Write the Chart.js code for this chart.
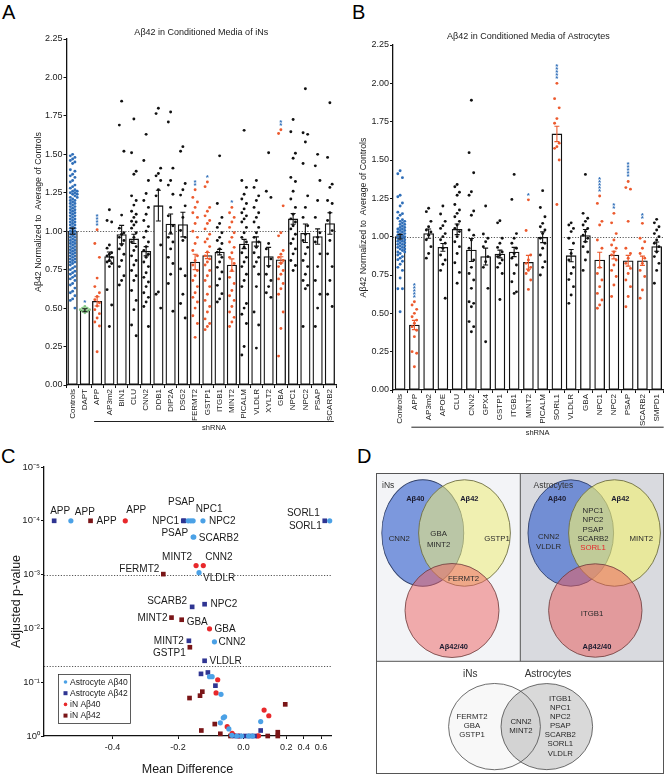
<!DOCTYPE html>
<html><head><meta charset="utf-8">
<script src="https://cdn.jsdelivr.net/npm/chart.js@4.4.1/dist/chart.umd.min.js"></script>
<style>
body{margin:0;background:#fff;width:669px;height:777px;overflow:hidden;position:relative;font-family:'Liberation Sans',Arial,sans-serif}
canvas{position:absolute}
.pl{position:absolute;font-size:20px;line-height:20px;color:#000}
</style></head><body>
<div class="pl" style="left:2px;top:2px">A</div>
<div class="pl" style="left:352px;top:2px">B</div>
<div class="pl" style="left:1px;top:446px">C</div>
<div class="pl" style="left:357px;top:446px">D</div>
<canvas id="cA" width="340" height="440" style="left:0;top:0"></canvas>
<canvas id="cB" width="334" height="440" style="left:335px;top:0"></canvas>
<canvas id="cC" width="335" height="322" style="left:0;top:455px"></canvas>
<canvas id="cD" width="288" height="301" style="left:376px;top:473px"></canvas>
<script>
// ---------------- DATA: panel A ----------------
const catsA = ['Controls','DAPT','APP','AP3m2','BIN1','CLU','CNN2','DDB1','DIP2A','DSG2','FERMT2','GSTP1','ITGB1','MINT2','PICALM','VLDLR','XYLT2','GBA','NPC1','NPC2','PSAP','SCARB2'];
const meanA = [1.00,0.486,0.544,0.835,0.978,0.95,0.87,1.166,1.047,1.043,0.80,0.842,0.864,0.78,0.917,0.933,0.835,0.814,1.08,0.987,0.965,1.05];
const semA  = [0.02,0.01,0.03,0.03,0.06,0.03,0.03,0.10,0.065,0.08,0.05,0.02,0.018,0.04,0.03,0.03,0.06,0.02,0.035,0.06,0.05,0.07];
const starsA = [0,1,4,0,0,0,0,0,0,0,2,1,0,1,0,0,0,2,0,0,0,0];
const hitsA = ['APP','FERMT2','GSTP1','MINT2','GBA'];
const dotsA = [
 [1.50,1.49,1.48,1.47,1.46,1.45,1.44,1.40,1.39,1.37,1.36,1.35,1.33,1.32,1.30,1.29,1.28,1.27,1.26,1.26,1.25,1.25,1.24,1.24,1.23,1.22,1.22,1.21,1.20,1.20,1.19,1.18,1.18,1.17,1.16,1.16,1.15,1.14,1.14,1.13,1.12,1.12,1.11,1.10,1.10,1.09,1.08,1.08,1.07,1.06,1.06,1.05,1.04,1.04,1.03,1.02,1.02,1.01,1.00,1.00,0.99,0.98,0.98,0.97,0.96,0.96,0.95,0.94,0.94,0.93,0.92,0.92,0.91,0.90,0.90,0.89,0.88,0.88,0.87,0.86,0.86,0.85,0.84,0.84,0.83,0.82,0.82,0.81,0.80,0.80,0.79,0.78,0.77,0.76,0.75,0.74,0.73,0.72,0.71,0.70,0.69,0.68,0.66,0.65,0.63,0.61,0.60,0.58,0.56,0.55,0.50],
 [0.51,0.50,0.50,0.49,0.49,0.49,0.48,0.48,0.47],
 [1.01,0.92,0.83,0.695,0.64,0.60,0.576,0.555,0.535,0.514,0.49,0.464,0.436,0.41,0.384,0.216],
 [1.14,1.07,1.06,0.91,0.89,0.86,0.85,0.84,0.83,0.81,0.80,0.79,0.77,0.62,0.52,0.38],
 [1.846,1.69,1.52,1.105,1.02,0.99,0.98,0.96,0.94,0.91,0.885,0.85,0.81,0.77,0.71,0.68,0.65],
 [1.73,1.51,1.39,1.37,1.23,1.20,1.17,1.13,1.11,1.09,1.065,1.06,1.04,1.02,0.99,0.96,0.93,0.90,0.875,0.84,0.81,0.78,0.745,0.71,0.68,0.615,0.55,0.49,0.39,0.32],
 [1.63,1.46,1.33,1.245,1.20,1.155,1.11,1.07,1.03,1.00,0.96,0.93,0.90,0.875,0.85,0.83,0.80,0.77,0.73,0.70,0.67,0.64,0.60,0.57,0.54,0.51,0.38],
 [1.80,1.765,1.41,1.375,1.36,1.33,1.27,1.23,0.91,0.605,0.59,0.50],
 [1.775,1.71,1.41,1.33,1.30,1.24,1.155,1.10,1.035,0.99,0.96,0.93,0.885,0.83,0.79,0.72,0.66,0.48],
 [1.55,1.52,1.31,1.27,1.235,1.165,1.09,1.005,0.96,0.94,0.755,0.71,0.59,0.53,0.436],
 [1.27,1.22,1.19,1.155,1.12,1.09,1.05,1.00,0.96,0.92,0.875,0.84,0.81,0.78,0.745,0.71,0.68,0.64,0.60,0.57,0.54,0.50,0.45,0.40,0.31],
 [1.32,1.29,1.155,1.13,1.10,1.07,1.05,1.015,0.98,0.95,0.93,0.90,0.865,0.84,0.82,0.80,0.78,0.745,0.71,0.68,0.64,0.59,0.55,0.51,0.475,0.43,0.40,0.38,0.36],
 [1.49,1.18,1.09,1.05,1.025,0.99,0.96,0.94,0.92,0.885,0.864,0.83,0.80,0.765,0.735,0.69,0.648,0.594,0.56,0.54],
 [1.155,1.12,1.09,1.06,1.025,0.99,0.96,0.93,0.895,0.86,0.83,0.79,0.745,0.70,0.66,0.615,0.58,0.55,0.51,0.475,0.44,0.41,0.38],
 [1.656,1.33,1.285,1.24,1.21,1.18,1.145,1.12,1.10,1.08,1.06,1.025,0.99,0.96,0.93,0.896,0.86,0.83,0.80,0.77,0.72,0.68,0.64,0.53,0.50,0.46,0.40,0.25,0.195],
 [1.33,1.285,1.23,1.20,1.155,1.12,1.09,1.06,1.025,0.99,0.96,0.93,0.895,0.86,0.83,0.80,0.77,0.72,0.64,0.475,0.39,0.24],
 [1.51,1.26,1.22,0.92,0.885,0.82,0.77,0.72,0.68,0.64,0.60,0.57],
 [1.66,1.635,1.165,0.99,0.97,0.875,0.85,0.83,0.81,0.79,0.77,0.745,0.72,0.69,0.66,0.626,0.59,0.475,0.367,0.188],
 [1.727,1.647,1.507,1.475,1.35,1.323,1.26,1.21,1.155,1.11,1.08,1.06,1.036,1.015,0.98,0.95,0.92,0.885,0.853,0.81,0.777,0.745],
 [1.926,1.64,1.63,1.58,1.44,1.23,1.155,1.09,1.036,0.98,0.94,0.895,0.853,0.81,0.77,0.72,0.68,0.648,0.626,0.38],
 [1.50,1.425,1.33,1.20,1.09,0.99,0.96,0.93,0.853,0.77,0.68,0.59,0.50,0.38],
 [1.835,1.48,1.306,1.285,1.20,1.18,1.12,1.07,1.004,0.94,0.853,0.77,0.68,0.59,0.51]
];
// ---------------- DATA: panel B ----------------
const catsB = ['Controls','APP','AP3m2','APOE','CLU','CNN2','GPX4','GSTP1','ITGB1','MINT2','PICALM','SORL1','VLDLR','GBA','NPC1','NPC2','PSAP','SCARB2','SMPD1'];
const meanB = [1.00,0.424,1.02,0.93,1.048,0.913,0.87,0.887,0.90,0.833,0.996,1.67,0.876,1.007,0.848,0.88,0.843,0.843,0.935];
const semB  = [0.015,0.03,0.03,0.025,0.035,0.075,0.055,0.025,0.03,0.045,0.035,0.05,0.04,0.04,0.05,0.025,0.035,0.03,0.03];
const starsB = [0,5,0,0,0,0,0,0,0,1,0,5,0,0,5,2,5,2,0];
const hitsB = ['APP','MINT2','SORL1','NPC1','NPC2','PSAP','SCARB2'];
const dotsB = [
 [1.43,1.41,1.385,1.27,1.26,1.22,1.20,1.16,1.15,1.14,1.12,1.11,1.10,1.10,1.09,1.08,1.08,1.07,1.06,1.06,1.05,1.05,1.04,1.04,1.03,1.03,1.02,1.02,1.01,1.01,1.00,1.00,0.99,0.99,0.98,0.98,0.97,0.97,0.96,0.96,0.95,0.95,0.94,0.94,0.93,0.93,0.92,0.92,0.91,0.90,0.90,0.89,0.88,0.87,0.86,0.85,0.84,0.82,0.80,0.78,0.73,0.66,0.66,0.51],
 [0.576,0.554,0.526,0.50,0.478,0.456,0.435,0.413,0.39,0.348,0.25,0.24,0.152],
 [1.185,1.163,1.10,1.065,1.043,1.03,1.01,0.98,0.935,0.89,0.86],
 [1.20,1.148,1.10,1.072,1.054,1.02,1.00,0.98,0.957,0.924,0.88,0.848,0.82,0.78,0.598],
 [1.34,1.326,1.29,1.27,1.21,1.174,1.152,1.13,1.10,1.076,1.054,1.033,1.00,0.967,0.935,0.89,0.83,0.767,0.696],
 [1.89,1.548,1.417,1.293,1.27,1.167,1.14,1.043,1.01,0.978,0.924,0.848,0.80,0.76,0.717,0.663,0.576,0.565,0.543,0.446,0.413,0.38],
 [1.20,1.017,0.99,0.967,0.935,0.87,0.837,0.80,0.663,0.315],
 [1.104,1.09,0.99,0.957,0.93,0.90,0.88,0.87,0.848,0.826,0.80,0.76,0.59],
 [1.406,1.243,1.02,0.99,0.957,0.924,0.89,0.86,0.815,0.76,0.706,0.64,0.63],
 [1.24,1.04,0.88,0.848,0.826,0.80,0.78,0.76,0.717,0.656],
 [1.30,1.19,1.13,1.087,1.065,1.043,1.02,0.99,0.957,0.924,0.88,0.837,0.80,0.75],
 [2.00,1.90,1.84,1.77,1.74,1.61,1.587,1.576,1.50,1.21],
 [1.09,1.076,1.054,1.033,0.99,0.957,0.89,0.848,0.80,0.76,0.72,0.674,0.62,0.565],
 [1.406,1.152,1.12,1.10,1.076,1.054,1.033,1.01,0.99,0.967,0.935,0.90,0.848,0.78],
 [1.265,1.217,1.10,1.076,0.978,0.924,0.80,0.76,0.717,0.674,0.63,0.587,0.554,0.533],
 [1.152,1.09,1.02,0.978,0.946,0.924,0.90,0.88,0.848,0.815,0.78,0.74,0.685,0.61],
 [1.36,1.32,1.31,1.10,0.924,0.89,0.86,0.826,0.793,0.76,0.717,0.674,0.61,0.543],
 [1.087,0.99,0.967,0.924,0.89,0.86,0.826,0.78,0.74,0.652,0.598],
 [1.113,1.09,1.065,1.043,1.02,1.00,0.978,0.957,0.935,0.90,0.87,0.826,0.78,0.696]
];
// ---------------- DATA: panel C (mean difference, adjusted p, gene) ----------------
const seriesC = ['Astrocyte Aβ40','Astrocyte Aβ42','iN Aβ40','iN Aβ42'];
const astro40C = [[-0.527,1e-4,'APP'],[-0.169,1e-4,''],[-0.161,1e-4,''],[-0.154,1e-4,'NPC1'],[-0.124,1e-4,'NPC2'],[0.699,1e-4,'SORL1'],[-0.154,2.0e-4,'PSAP'],[-0.152,2.0e-4,'SCARB2'],[-0.136,9.2e-4,'VLDLR'],[-0.089,0.0178,'CNN2'],[-0.104,0.079,''],[-0.096,0.079,''],[-0.069,0.168,''],[-0.058,0.44,''],[-0.062,0.46,''],[-0.071,0.57,''],[-0.045,0.74,''],[0.08,0.54,''],[-0.036,0.97,''],[-0.021,1,''],[-0.006,1,''],[0.023,1,''],[0.042,1,'']];
const astro42C = [[-0.578,1e-4,'APP'],[-0.184,1e-4,'PSAP'],[-0.182,1e-4,'NPC1'],[0.642,1e-4,'SORL1'],[-0.157,3.98e-3,'SCARB2'],[-0.119,3.55e-3,'NPC2'],[-0.167,0.017,'MINT2'],[-0.119,0.040,'VLDLR'],[-0.13,0.070,''],[-0.109,0.066,''],[-0.086,0.116,''],[0.08,0.79,''],[-0.027,1,''],[-0.012,1,''],[0.008,1,''],[0.031,1,''],[0.051,1,'']];
const iN40C = [[-0.361,1e-4,'APP'],[-0.145,6.8e-4,'MINT2'],[-0.123,6.8e-4,'CNN2'],[-0.104,0.0102,'GBA'],[-0.079,0.090,''],[-0.084,0.158,''],[-0.05,0.67,''],[0.096,0.33,''],[0.118,0.42,''],[0.07,0.99,''],[-0.03,0.97,''],[-0.015,1,''],[-0.035,0.89,''],[0.065,1,'']];
const iN42C = [[-0.467,1e-4,'APP'],[-0.245,9.8e-4,'FERMT2'],[-0.22,6.3e-3,'MINT2'],[-0.189,6.9e-3,'GBA'],[-0.164,0.0224,'GSTP1'],[-0.165,0.197,''],[-0.133,0.178,''],[-0.126,0.150,''],[-0.088,0.60,''],[-0.129,0.79,''],[-0.071,0.91,''],[-0.04,1,''],[0.113,1,''],[0.16,0.85,''],[0.16,1,''],[0.195,0.258,'']];
const thresholdsC = [0.001, 0.05];
const xTicksC = [-0.4,-0.2,0,0.2,0.4,0.6];
const yTicksC = [1e-5,1e-4,1e-3,1e-2,1e-1,1];
// ---------------- DATA: panel D (gene sets) ----------------
const iNsAb40Only = ['CNN2'], iNsAb40Ab42 = ['GBA','MINT2'], iNsAb42Only = ['GSTP1'], iNsAb42Ratio = ['FERMT2'];
const astAb40Only = ['CNN2','VLDLR'], astAb40Ab42 = ['NPC1','NPC2','PSAP','SCARB2','SORL1'], astAb42Only = ['MINT2'], astRatioOnly = ['ITGB1'];
const iNsOnly = ['FERMT2','GBA','GSTP1'], sharedHits = ['CNN2','MINT2'], astOnly = ['ITGB1','NPC1','NPC2','PSAP','SCARB2','SORL1','VLDLR'];

// ---------------- setup ----------------
const FONT = "'Liberation Sans', Arial, Helvetica, sans-serif";
Chart.defaults.font.family = FONT;
Chart.defaults.color = '#1a1a1a';
Chart.defaults.animation = false;
Chart.defaults.events = [];
Chart.defaults.plugins.legend.display = false;
Chart.defaults.plugins.tooltip.enabled = false;

function swarm(vals, pxPerVal, d, minDist) {
  const placed = [];
  return vals.map((v, j) => {
    const y = v * pxPerVal;
    const pref = [0, -1, 1][j % 3];
    const cands = [pref, 0, 1, -1, 2, -2, 3, -3, 4, -4, 5, -5, 6, -6];
    for (const c of cands) {
      const x = c * d;
      if (placed.every(p => Math.hypot(p[0] - x, p[1] - y) >= minDist)) { placed.push([x, y]); return x; }
    }
    placed.push([0, y]); return 0;
  });
}

const BLUE = '#2f6eb8', RED = '#ec5a2e', GREEN = '#86c986', BLACK = '#111';

function barPanel(id, o) {
  const n = o.cats.length;
  const unitPx = o.plotW / n;
  const groups = {ctrl: [], dapt: [], hit: [], other: []};
  o.dots.forEach((vals, i) => {
    const name = o.cats[i];
    const kind = i === 0 ? 'ctrl' : name === 'DAPT' ? 'dapt' : o.hits.includes(name) ? 'hit' : 'other';
    const offs = swarm(vals, o.pxPerVal, 2.3, 2.6);
    vals.forEach((v, j) => groups[kind].push({x: i + offs[j] / unitPx, y: v}));
  });
  const colors = {ctrl: BLUE, dapt: GREEN, hit: RED, other: BLACK};
  const datasets = [{type: 'bar', data: o.means.map((m, i) => ({x: i, y: m})), backgroundColor: '#fff', borderColor: BLACK, borderWidth: 1.3, borderSkipped: false, barThickness: o.barPx, order: 2}];
  for (const k of ['ctrl', 'dapt', 'hit', 'other']) {
    datasets.push({type: 'scatter', data: groups[k], pointRadius: 1.45, pointBackgroundColor: colors[k], backgroundColor: colors[k], pointBorderWidth: 0, borderWidth: 0, order: 1, clip: false});
  }
  const extras = {
    id: 'extras' + id,
    beforeDatasetsDraw(c) {
      const {ctx, chartArea: a, scales: {y}} = c;
      const py = Math.round(y.getPixelForValue(1)) + 0.5;
      ctx.save(); ctx.setLineDash([1.2, 1.6]); ctx.strokeStyle = '#444'; ctx.lineWidth = 0.9;
      ctx.beginPath(); ctx.moveTo(a.left, py); ctx.lineTo(a.right, py); ctx.stroke(); ctx.restore();
    },
    afterDatasetsDraw(c) {
      const {ctx, scales: {x, y}} = c;
      ctx.save();
      o.means.forEach((m, i) => {
        const s = o.sems[i];
        const px = x.getPixelForValue(i), t = y.getPixelForValue(m + s), b = y.getPixelForValue(m - s);
        ctx.strokeStyle = o.hits.includes(o.cats[i]) ? RED : BLACK;
        ctx.lineWidth = 1.1;
        ctx.beginPath();
        ctx.moveTo(px, t); ctx.lineTo(px, b);
        ctx.moveTo(px - 2.5, t); ctx.lineTo(px + 2.5, t);
        ctx.moveTo(px - 2.5, b); ctx.lineTo(px + 2.5, b);
        ctx.stroke();
      });
      ctx.fillStyle = BLUE; ctx.font = 'bold 8px ' + FONT; ctx.textAlign = 'center'; ctx.textBaseline = 'alphabetic';
      o.stars.forEach((k, i) => {
        if (!k) return;
        const top = y.getPixelForValue(Math.max(...o.dots[i]));
        for (let j = 0; j < k; j++) ctx.fillText('*', x.getPixelForValue(i), top - 2 - j * 3);
      });
      ctx.restore();
    },
    afterDraw(c) {
      const {ctx, scales: {x}, chartArea: a} = c;
      const x1 = x.getPixelForValue(o.shFrom) - 3, x2 = x.getPixelForValue(n - 1) + o.shExtra;
      const yy = a.bottom + o.shY + 0.5;
      ctx.save(); ctx.strokeStyle = '#222'; ctx.lineWidth = 1;
      ctx.beginPath(); ctx.moveTo(x1, yy); ctx.lineTo(x2, yy); ctx.stroke();
      ctx.fillStyle = '#1a1a1a'; ctx.font = '7.5px ' + FONT; ctx.textAlign = 'center'; ctx.textBaseline = 'middle';
      ctx.fillText('shRNA', (x1 + x2) / 2, yy + 6);
      ctx.restore();
    }
  };
  new Chart(document.getElementById(id), {
    type: 'bar',
    data: {datasets},
    options: {
      responsive: false,
      layout: {padding: {left: 0, right: o.padR, top: 0, bottom: 0}},
      plugins: {
        title: {display: true, text: o.title, fullSize: false, font: {size: 9, weight: 'normal'}, color: '#1a1a1a', padding: {top: o.titleTop, bottom: o.titleBottom}}
      },
      scales: {
        x: {
          type: 'linear', min: -0.5, max: n - 0.5, offset: false,
          afterBuildTicks: s => { s.ticks = o.cats.map((_, i) => ({value: i})); },
          afterFit: s => { s.height = o.xH; s.paddingLeft = 0; s.paddingRight = 0; },
          ticks: {autoSkip: false, maxRotation: 90, minRotation: 90, font: {size: 8}, padding: 1, color: '#1a1a1a', callback: v => o.cats[v]},
          grid: {display: true, drawOnChartArea: false, drawTicks: true, tickLength: 3, color: BLACK, lineWidth: 1},
          border: {display: true, color: BLACK, width: 1.3}
        },
        y: {
          type: 'linear', min: 0, max: 2.25,
          afterFit: s => { s.width = o.yW; s.paddingTop = 0; s.paddingBottom = 0; },
          ticks: {stepSize: 0.25, font: {size: 9}, padding: 1, color: '#1a1a1a', callback: v => v.toFixed(2)},
          grid: {display: true, drawOnChartArea: false, drawTicks: true, tickLength: 3, color: BLACK, lineWidth: 1},
          border: {display: true, color: BLACK, width: 1.3},
          title: {display: true, text: 'Aβ42 Normalized to  Average of Controls', font: {size: 8.8}, color: '#1a1a1a', padding: {top: o.yTitlePad, bottom: 0}}
        }
      }
    },
    plugins: [extras]
  });
}

barPanel('cA', {cats: catsA, means: meanA, sems: semA, dots: dotsA, stars: starsA, hits: hitsA,
  title: 'Aβ42 in Conditioned Media of iNs', plotW: 270, pxPerVal: 154.4, barPx: 9.5,
  padR: 3.5, yW: 66.5, xH: 55, titleTop: 26.9, titleBottom: 1.3, yTitlePad: 33.5, shFrom: 2, shY: 36, shExtra: 4});
barPanel('cB', {cats: catsB, means: meanB, sems: semB, dots: dotsB, stars: starsB, hits: hitsB,
  title: 'Aβ42 in Conditioned Media of Astrocytes', plotW: 270.8, pxPerVal: 153.3, barPx: 10,
  padR: 5.2, yW: 58, xH: 50, titleTop: 31.3, titleBottom: 2.9, yTitlePad: 23.6, shFrom: 1, shY: 36.7, shExtra: 7});

// ---------------- panel C ----------------
const brkV = [-0.609, 0, 0.2, 0.714];
const brkF = [0, 0.6955, 0.8443, 1];
function toFrac(v) {
  for (let i = 0; i < brkV.length - 1; i++) {
    if (v <= brkV[i + 1] || i === brkV.length - 2) return brkF[i] + (v - brkV[i]) / (brkV[i + 1] - brkV[i]) * (brkF[i + 1] - brkF[i]);
  }
}
function fromFrac(f) {
  for (let i = 0; i < brkF.length - 1; i++) {
    if (f <= brkF[i + 1] || i === brkF.length - 2) return brkV[i] + (f - brkF[i]) / (brkF[i + 1] - brkF[i]) * (brkV[i + 1] - brkV[i]);
  }
}
class BrokenScale extends Chart.LinearScale {
  getPixelForValue(v) { return this.left + toFrac(v) * this.width; }
  getValueForPixel(p) { return fromFrac((p - this.left) / this.width); }
}
BrokenScale.id = 'broken';
BrokenScale.defaults = Chart.LinearScale.defaults;
Chart.register(BrokenScale);

const colC = ['#4ba1e6', '#2f3592', '#e8282b', '#7a1517'];
const shapeC = ['circle', 'rect', 'circle', 'rect'];
const radC = [2.6, 3.3, 2.6, 3.3];
const keyC = ['a40', 'a42', 'i40', 'i42'];
const setsC = [astro40C, astro42C, iN40C, iN42C];
const labelPos = {
  'a42|APP': ['center', 6, -10], 'a42|PSAP': ['center', -2, -19], 'a42|NPC1': ['right', -5, 0], 'a42|SORL1': ['right', -5, -8],
  'a42|SCARB2': ['right', -5, -6], 'a42|NPC2': ['left', 6, 0], 'a42|MINT2': ['right', -5, 0], 'a42|VLDLR': ['left', 5, 0],
  'a40|APP': ['center', 14, -9], 'a40|NPC1': ['center', 16, -12], 'a40|NPC2': ['left', 6, 0], 'a40|SORL1': ['right', -8, 5],
  'a40|PSAP': ['right', -5, -4], 'a40|SCARB2': ['left', 5, 1], 'a40|VLDLR': ['left', 4, 6], 'a40|CNN2': ['left', 4, 0],
  'i40|APP': ['center', 11, -11], 'i40|MINT2': ['right', -4, -8], 'i40|CNN2': ['left', 2, -8], 'i40|GBA': ['left', 5, 0],
  'i42|APP': ['left', 6, 0], 'i42|FERMT2': ['right', -4, -5], 'i42|MINT2': ['right', -4, 1], 'i42|GBA': ['left', 5, 3], 'i42|GSTP1': ['right', -4, 6]
};
const supMap = {'-': '⁻', '0': '⁰', '1': '¹', '2': '²', '3': '³', '4': '⁴', '5': '⁵'};
const cPlugin = {
  id: 'cExtras',
  beforeDatasetsDraw(c) {
    const {ctx, chartArea: a, scales: {y}} = c;
    ctx.save(); ctx.setLineDash([1.2, 1.6]); ctx.strokeStyle = '#444'; ctx.lineWidth = 0.9;
    thresholdsC.forEach(t => {
      const py = Math.round(y.getPixelForValue(t)) + 0.5;
      ctx.beginPath(); ctx.moveTo(a.left, py); ctx.lineTo(a.right, py); ctx.stroke();
    });
    ctx.restore();
  },
  afterDatasetsDraw(c) {
    const {ctx, chartArea: a} = c;
    ctx.save();
    ctx.font = '10px ' + FONT; ctx.fillStyle = '#1a1a1a'; ctx.textBaseline = 'middle';
    setsC.forEach((set, si) => {
      const meta = c.getDatasetMeta(si);
      set.forEach((p, j) => {
        if (!p[2]) return;
        const pos = labelPos[keyC[si] + '|' + p[2]];
        if (!pos) return;
        const el = meta.data[j];
        ctx.textAlign = pos[0];
        ctx.fillText(p[2], el.x + pos[1], el.y + pos[2]);
      });
    });
    // legend
    const lx = a.left + 14, ly = a.top + 207;
    ctx.fillStyle = '#fff'; ctx.fillRect(lx, ly, 72, 49);
    ctx.strokeStyle = '#333'; ctx.lineWidth = 0.8; ctx.strokeRect(lx + 0.5, ly + 0.5, 72, 49);
    ctx.font = '8.5px ' + FONT; ctx.textAlign = 'left';
    seriesC.forEach((name, i) => {
      const yy = ly + 8 + i * 11.2;
      ctx.fillStyle = colC[i];
      if (shapeC[i] === 'circle') { ctx.beginPath(); ctx.arc(lx + 7.5, yy, 1.8, 0, Math.PI * 2); ctx.fill(); }
      else ctx.fillRect(lx + 5.5, yy - 2, 4, 4);
      ctx.fillStyle = '#1a1a1a'; ctx.fillText(name, lx + 12, yy + 0.5);
    });
    ctx.restore();
  }
};
new Chart(document.getElementById('cC'), {
  type: 'scatter',
  data: {datasets: setsC.map((set, i) => ({
    label: seriesC[i], data: set.map(p => ({x: p[0], y: p[1]})),
    pointStyle: shapeC[i], pointRadius: radC[i], backgroundColor: colC[i], pointBackgroundColor: colC[i], pointBorderWidth: 0, borderWidth: 0, clip: false, order: i
  }))},
  options: {
    responsive: false,
    layout: {padding: {left: 0, right: 2, top: 12, bottom: 0}},
    scales: {
      x: {
        type: 'broken', min: brkV[0], max: brkV[3],
        afterBuildTicks: s => { s.ticks = xTicksC.map(v => ({value: v})); },
        afterFit: s => { s.height = 41; s.paddingLeft = 0; s.paddingRight = 0; },
        ticks: {font: {size: 9}, padding: 3, color: '#1a1a1a', maxRotation: 0, autoSkip: false, callback: v => v.toFixed(1)},
        grid: {display: true, drawOnChartArea: false, drawTicks: true, tickLength: 3, color: BLACK},
        border: {display: true, color: BLACK, width: 1.3},
        title: {display: true, text: 'Mean Difference', font: {size: 12.5}, color: '#1a1a1a', padding: {top: 0, bottom: 0}}
      },
      y: {
        type: 'logarithmic', min: 1e-5, max: 1, reverse: true,
        afterBuildTicks: s => { s.ticks = yTicksC.map(v => ({value: v})); },
        afterFit: s => { s.width = 44; s.paddingTop = 0; s.paddingBottom = 0; },
        ticks: {font: {size: 9.5}, padding: 1, color: '#1a1a1a', autoSkip: false,
          callback: v => '10' + String(Math.round(Math.log10(v))).split('').map(ch => supMap[ch]).join('')},
        grid: {display: true, drawOnChartArea: false, drawTicks: true, tickLength: 3, color: BLACK},
        border: {display: true, color: BLACK, width: 1.3},
        title: {display: true, text: 'Adjusted p-value', font: {size: 12.5}, color: '#1a1a1a', padding: {top: 9, bottom: 0}}
      }
    }
  },
  plugins: [cPlugin]
});

// ---------------- panel D ----------------
// shape layout: [cx, cy, r (horizontal), vertical stretch, fill, stroke, order]
const vennCircles = [
  [76, 137.5, 47, 1.0, 'rgba(238,95,95,0.5)', '#6a3a3a', 0],
  [88.5, 60, 45.9, 1.16, 'rgba(236,236,120,0.55)', '#6a6a40', 1],
  [46.8, 60, 41, 1.3, 'rgba(50,95,205,0.62)', '#30406a', 2],
  [219.3, 137.5, 46.7, 1.0, 'rgba(235,90,90,0.5)', '#6a3a3a', 0],
  [238.5, 60, 45.9, 1.16, 'rgba(240,240,115,0.62)', '#6a6a40', 1],
  [194.8, 60, 42.8, 1.243, 'rgba(50,95,205,0.62)', '#30406a', 2],
  [170.8, 253.6, 45.8, 0.94, 'rgba(80,80,80,0.22)', '#444', 3],
  [118.5, 253.6, 45.9, 0.94, 'rgba(120,120,120,0.05)', '#444', 4]
];
const vennText = [];
function addStack(list, x, y0, step, style) { list.forEach((g, k) => vennText.push([g, x, y0 + k * step, style])); }
vennText.push(['iNs', 6, 12.5, 'head'], ['Astrocytes', 157.6, 12.5, 'head']);
vennText.push(['Aβ40', 39.3, 25.6, 'ab'], ['Aβ42', 93.3, 25.6, 'ab'], ['Aβ42/40', 77.6, 174, 'ab']);
vennText.push(['Aβ40', 181, 25.6, 'ab'], ['Aβ42', 244.3, 25.6, 'ab'], ['Aβ42/40', 221, 174, 'ab']);
addStack(iNsAb40Only, 23.3, 66.3, 10, 'gene');
addStack(iNsAb40Ab42, 62.6, 60.6, 11, 'gene');
addStack(iNsAb42Only, 121, 66.3, 10, 'gene');
addStack(iNsAb42Ratio, 87.6, 105.6, 10, 'gene');
addStack(astAb40Only, 172.6, 64, 10, 'gene');
addStack(astAb40Ab42, 217, 38, 9.25, 'gene');
addStack(astAb42Only, 265.3, 65.6, 10, 'gene');
addStack(astRatioOnly, 216, 140.6, 10, 'gene');
vennText.push(['iNs', 94.3, 201.5, 'head2'], ['Astrocytes', 172, 201.5, 'head2']);
addStack(iNsOnly, 96, 244, 8.7, 'gene');
addStack(sharedHits, 145, 249, 8.5, 'gene');
addStack(astOnly, 184.3, 225.6, 9.15, 'gene');

const dPlugin = {
  id: 'dExtras',
  beforeDatasetsDraw(c) {
    const {ctx, scales: {x, y}} = c;
    const X = v => x.getPixelForValue(v), Y = v => y.getPixelForValue(v);
    ctx.save();
    ctx.fillStyle = '#f3f4f7'; ctx.fillRect(X(0), Y(0), X(144.3) - X(0), Y(188.3) - Y(0));
    ctx.fillStyle = '#d9dadf'; ctx.fillRect(X(144.3), Y(0), X(287.6) - X(144.3), Y(188.3) - Y(0));
    ctx.fillStyle = '#ffffff'; ctx.fillRect(X(0), Y(188.3), X(287.6) - X(0), Y(300.6) - Y(188.3));
    ctx.restore();
  },
  beforeDatasetDraw(c, args) {
    const ds = c.data.datasets[args.index];
    const el = args.meta.data[0];
    const ctx = c.ctx;
    ctx.save();
    ctx.translate(el.x, el.y); ctx.scale(1, ds.ky); ctx.translate(-el.x, -el.y);
  },
  afterDatasetDraw(c) { c.ctx.restore(); },
  afterDatasetsDraw(c) {
    const {ctx, scales: {x, y}} = c;
    const X = v => x.getPixelForValue(v), Y = v => y.getPixelForValue(v);
    ctx.save();
    ctx.strokeStyle = '#555'; ctx.lineWidth = 1;
    ctx.strokeRect(X(0) + 0.5, Y(0) + 0.5, X(287) - X(0), Y(300) - Y(0));
    ctx.beginPath();
    ctx.moveTo(X(0), Y(188.3)); ctx.lineTo(X(287.6), Y(188.3));
    ctx.moveTo(X(144.3), Y(0)); ctx.lineTo(X(144.3), Y(188.3));
    ctx.stroke();
    ctx.textBaseline = 'middle';
    vennText.forEach(([t, tx, ty, st]) => {
      if (st === 'head') { ctx.font = '8.5px ' + FONT; ctx.textAlign = 'left'; ctx.fillStyle = '#333'; }
      else if (st === 'head2') { ctx.font = '10px ' + FONT; ctx.textAlign = 'center'; ctx.fillStyle = '#333'; }
      else if (st === 'ab') { ctx.font = 'bold 7.5px ' + FONT; ctx.textAlign = 'center'; ctx.fillStyle = '#1c1c30'; }
      else { ctx.font = '7.8px ' + FONT; ctx.textAlign = 'center'; ctx.fillStyle = (t === 'SORL1' && ty < 100) ? '#e8282b' : '#2a2a2a'; }
      ctx.fillText(t, X(tx), Y(ty));
    });
    ctx.restore();
  }
};
new Chart(document.getElementById('cD'), {
  type: 'bubble',
  data: {datasets: vennCircles.map(cc => ({data: [{x: cc[0], y: cc[1], r: cc[2]}], ky: cc[3], backgroundColor: cc[4], borderColor: cc[5], borderWidth: 0.8, order: cc[6], clip: false}))},
  options: {
    responsive: false,
    layout: {padding: 0, autoPadding: false},
    scales: {x: {type: 'linear', display: false, min: 0, max: 288}, y: {type: 'linear', display: false, min: 0, max: 301, reverse: true}}
  },
  plugins: [dPlugin]
});
</script>
</body></html>
